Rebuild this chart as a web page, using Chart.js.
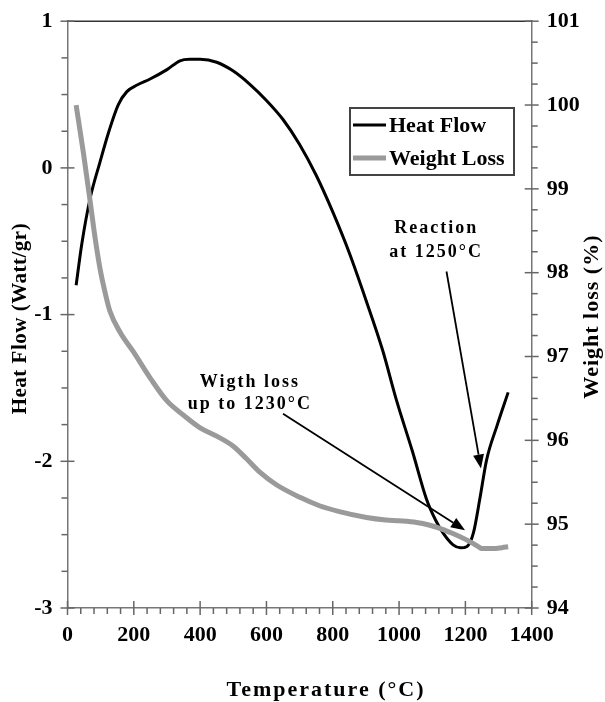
<!DOCTYPE html>
<html>
<head>
<meta charset="utf-8">
<script src="https://cdn.jsdelivr.net/npm/chart.js@4.4.1/dist/chart.umd.min.js"></script>
<style>
  html, body { margin: 0; padding: 0; background: #fff; }
  canvas { display: block; }
</style>
</head>
<body>
<canvas id="dscChart" width="605" height="702"></canvas>
<script>
// heat flow curve (left axis)
const hfTemps = [26, 43, 68, 98, 125, 153, 179, 210, 249, 300, 339, 369, 400, 450, 500, 550, 600, 650, 700, 750, 800, 850, 900, 950, 993, 1040, 1083, 1110, 1133, 1163, 1185, 1205, 1224, 1244, 1264, 1295, 1329];
const heatFlow = [-0.80, -0.52, -0.21, 0.04, 0.25, 0.43, 0.52, 0.565, 0.606, 0.67, 0.73, 0.74, 0.74, 0.72, 0.66, 0.57, 0.46, 0.33, 0.16, -0.05, -0.30, -0.58, -0.90, -1.24, -1.59, -1.93, -2.26, -2.40, -2.49, -2.57, -2.59, -2.58, -2.49, -2.25, -1.99, -1.76, -1.53];

// weight curve (right axis)
const wlTemps = [26, 48, 68, 83, 98, 113, 128, 160, 198, 250, 300, 350, 400, 450, 500, 540, 580, 630, 701, 760, 820, 902, 960, 1000, 1053, 1090, 1123, 1155, 1184, 1205, 1223, 1240, 1249, 1284, 1310, 1329];
const weightLoss = [100.0, 99.43, 98.86, 98.42, 98.05, 97.77, 97.54, 97.28, 97.06, 96.74, 96.47, 96.30, 96.15, 96.05, 95.93, 95.78, 95.62, 95.47, 95.32, 95.22, 95.15, 95.08, 95.05, 95.04, 95.02, 94.99, 94.95, 94.90, 94.85, 94.81, 94.77, 94.73, 94.71, 94.71, 94.72, 94.73];

// labelled ticks
const xLabels = [0, 200, 400, 600, 800, 1000, 1200, 1400];
const hfLabels = [-3, -2, -1, 0, 1];
const wlLabels = [94, 95, 96, 97, 98, 99, 100, 101];

// callouts, in data units (x = temperature, y = heat flow)
const notes = [
    { lines: ['Wigth loss', 'up to 1230°C'], textX: 550, textY: [-1.46, -1.615], from: [650, -1.676], to: [1199, -2.47] },
    { lines: ['Reaction', 'at 1250°C'], textX: 1112, textY: [-0.41, -0.575], from: [1143, -0.706], to: [1247, -2.049] }
];

const serif = 'Liberation Serif';
const tickFont = { family: serif, size: 22, weight: 'bold' };

// plot frame: top edge + tick marks (long ones cross the axis)
const frame = {
    id: 'frame',
    afterDraw(chart) {
        const { ctx, chartArea: a, scales } = chart;
        ctx.save();
        ctx.strokeStyle = '#333';
        ctx.lineWidth = 1.5;
        ctx.beginPath();
        ctx.moveTo(a.left, a.top);
        ctx.lineTo(a.right, a.top);
        ctx.stroke();

        ctx.strokeStyle = '#666';
        const mark = (x1, y1, x2, y2) => {
            ctx.beginPath();
            ctx.moveTo(x1, y1);
            ctx.lineTo(x2, y2);
            ctx.stroke();
        };
        scales.x.ticks.forEach(t => {
            const p = scales.x.getPixelForValue(t.value);
            if (xLabels.includes(t.value)) mark(p, a.bottom - 7, p, a.bottom + 7);
            else mark(p, a.bottom, p, a.bottom + 6);
        });
        scales.y.ticks.forEach(t => {
            const p = scales.y.getPixelForValue(t.value);
            if (hfLabels.includes(t.value)) mark(a.left - 7, p, a.left + 7, p);
            else mark(a.left - 6, p, a.left, p);
        });
        scales.y2.ticks.forEach(t => {
            const p = scales.y2.getPixelForValue(t.value);
            if (wlLabels.includes(t.value)) mark(a.right - 7, p, a.right + 7, p);
            else mark(a.right, p, a.right + 6, p);
        });
        ctx.restore();
    }
};

// axis titles (both vertical ones read bottom to top)
const axisTitles = {
    id: 'axisTitles',
    afterDraw(chart) {
        const ctx = chart.ctx;
        const a = chart.chartArea;
        ctx.save();
        ctx.fillStyle = '#000';
        ctx.textAlign = 'center';
        ctx.textBaseline = 'middle';

        ctx.font = `bold 22px "${serif}"`;
        ctx.letterSpacing = '2px';
        ctx.fillText('Temperature (°C)', 326, 690);

        ctx.letterSpacing = '0.5px';
        ctx.font = `bold 21px "${serif}"`;
        ctx.translate(21, (a.top + a.bottom) / 2 + 4);
        ctx.rotate(-Math.PI / 2);
        ctx.fillText('Heat Flow (Watt/gr)', 0, 0);
        ctx.setTransform(1, 0, 0, 1, 0, 0);

        ctx.letterSpacing = '1px';
        ctx.font = `bold 22px "${serif}"`;
        ctx.translate(592, (a.top + a.bottom) / 2 + 2);
        ctx.rotate(-Math.PI / 2);
        ctx.fillText('Weight loss (%)', 0, 0);
        ctx.restore();
    }
};

// boxed legend inside the plot
const boxLegend = {
    id: 'boxLegend',
    afterDraw(chart) {
        const ctx = chart.ctx;
        const box = { left: 350, top: 108, right: 514, bottom: 175 };
        ctx.save();
        ctx.strokeStyle = '#444';
        ctx.lineWidth = 2;
        ctx.fillStyle = '#fff';
        ctx.fillRect(box.left, box.top, box.right - box.left, box.bottom - box.top);
        ctx.strokeRect(box.left, box.top, box.right - box.left, box.bottom - box.top);
        ctx.font = `bold 22px "${serif}"`;
        ctx.textBaseline = 'middle';
        chart.data.datasets.forEach((ds, i) => {
            const rowY = box.top + 17 + i * 33;
            ctx.strokeStyle = ds.borderColor;
            ctx.lineWidth = ds.borderWidth;
            ctx.beginPath();
            ctx.moveTo(box.left + 3, rowY);
            ctx.lineTo(box.left + 36, rowY);
            ctx.stroke();
            ctx.fillStyle = '#000';
            ctx.fillText(ds.label, box.left + 39, rowY + 1);
        });
        ctx.restore();
    }
};

function drawArrow(ctx, x1, y1, x2, y2) {
    const ang = Math.atan2(y2 - y1, x2 - x1);
    const head = 14, half = 5.5;
    const bx = x2 - head * Math.cos(ang), by = y2 - head * Math.sin(ang);
    ctx.beginPath();
    ctx.moveTo(x1, y1);
    ctx.lineTo(bx, by);
    ctx.stroke();
    ctx.beginPath();
    ctx.moveTo(x2, y2);
    ctx.lineTo(bx + half * Math.sin(ang), by - half * Math.cos(ang));
    ctx.lineTo(bx - half * Math.sin(ang), by + half * Math.cos(ang));
    ctx.closePath();
    ctx.fill();
}

const callouts = {
    id: 'callouts',
    afterDatasetsDraw(chart) {
        const { ctx, scales: { x, y } } = chart;
        ctx.save();
        ctx.fillStyle = '#000';
        ctx.strokeStyle = '#000';
        ctx.lineWidth = 1.8;
        ctx.font = `bold 18px "${serif}"`;
        ctx.letterSpacing = '2px';
        ctx.textAlign = 'center';
        ctx.textBaseline = 'middle';
        notes.forEach(n => {
            n.lines.forEach((line, i) => {
                ctx.fillText(line, x.getPixelForValue(n.textX), y.getPixelForValue(n.textY[i]));
            });
            drawArrow(ctx, x.getPixelForValue(n.from[0]), y.getPixelForValue(n.from[1]),
                x.getPixelForValue(n.to[0]), y.getPixelForValue(n.to[1]));
        });
        ctx.restore();
    }
};

const axisBorder = { display: true, color: '#777', width: 1.5 };
const gridOpts = { drawOnChartArea: false, drawTicks: true, tickLength: 7, tickColor: 'transparent' };

new Chart(document.getElementById('dscChart'), {
    type: 'line',
    data: {
        datasets: [
            {
                label: 'Heat Flow',
                data: hfTemps.map((t, i) => ({ x: t, y: heatFlow[i] })),
                yAxisID: 'y',
                borderColor: '#000',
                borderWidth: 3,
                pointRadius: 0,
                cubicInterpolationMode: 'monotone',
                order: 1
            },
            {
                label: 'Weight Loss',
                data: wlTemps.map((t, i) => ({ x: t, y: weightLoss[i] })),
                yAxisID: 'y2',
                borderColor: '#9a9a9a',
                borderWidth: 5,
                pointRadius: 0,
                cubicInterpolationMode: 'monotone',
                order: 0
            }
        ]
    },
    options: {
        responsive: false,
        animation: false,
        layout: { padding: { top: 18, left: 0, right: 0, bottom: 0 } },
        plugins: { legend: { display: false }, tooltip: { enabled: false } },
        scales: {
            x: {
                type: 'linear', min: 0, max: 1400,
                afterFit: s => { s.height = 94; },
                ticks: { stepSize: 40, autoSkip: false, maxRotation: 0, padding: 7, color: '#000', font: tickFont,
                    callback: v => xLabels.includes(v) ? String(v) : '' },
                grid: gridOpts,
                border: axisBorder
            },
            y: {
                position: 'left', min: -3, max: 1,
                afterFit: s => { s.width = 67.5; },
                ticks: { stepSize: 0.25, autoSkip: false, padding: 8, color: '#000', font: tickFont,
                    callback: v => hfLabels.includes(v) ? String(v) : '' },
                grid: gridOpts,
                border: axisBorder
            },
            y2: {
                position: 'right', min: 94, max: 101,
                afterFit: s => { s.width = 73.3; },
                ticks: { stepSize: 0.25, autoSkip: false, padding: 8, color: '#000', font: tickFont,
                    callback: v => wlLabels.includes(v) ? String(v) : '' },
                grid: gridOpts,
                border: axisBorder
            }
        }
    },
    plugins: [frame, boxLegend, callouts, axisTitles]
});
</script>
</body>
</html>
